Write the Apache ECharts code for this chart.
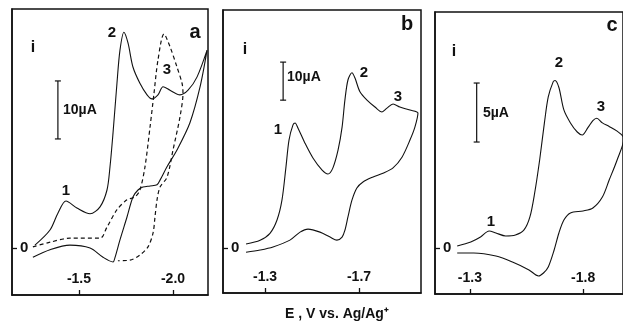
<!DOCTYPE html>
<html lang="en">
<head>
    <meta charset="UTF-8">
    <title>CV_panels</title>
    <script src="https://cdn.jsdelivr.net/npm/echarts@6/dist/echarts.min.js"></script>
    <style>
        html, body { margin: 0; padding: 0; background: #fff; }
        #main { width: 623px; height: 324px; }
    </style>
</head>
<body>
<div id="main"></div>
<script>
    // potentials in V vs Ag/Ag+, currents in microampere
    var aSolid = [[-1.266, 0.5], [-1.346, 3.1], [-1.388, 6.0], [-1.431, 8.1], [-1.489, 6.9], [-1.559, 5.9],
        [-1.612, 7.1], [-1.649, 10.0], [-1.665, 14.0], [-1.681, 19.8], [-1.702, 28.4], [-1.718, 34.1],
        [-1.739, 37.2], [-1.761, 35.3], [-1.787, 31.2], [-1.824, 28.4], [-1.862, 26.4], [-1.888, 25.7],
        [-1.920, 26.4], [-1.947, 27.8], [-1.984, 27.2], [-2.037, 26.4], [-2.080, 27.2], [-2.128, 29.5],
        [-2.181, 34.1],
        [-2.144, 27.8], [-2.090, 21.6], [-2.021, 16.9], [-1.968, 14.0], [-1.931, 11.7], [-1.915, 10.9],
        [-1.878, 10.7], [-1.840, 10.5], [-1.814, 10.0], [-1.787, 8.8], [-1.755, 5.3], [-1.718, 1.4],
        [-1.691, -1.7], [-1.681, -2.4], [-1.628, -1.6], [-1.559, 0.0], [-1.452, 0.5], [-1.346, -0.3],
        [-1.255, -1.6]];
    var aDashed = [[-1.255, 0.2], [-1.346, 1.0], [-1.452, 1.7], [-1.612, 1.7], [-1.649, 3.6], [-1.702, 6.6],
        [-1.755, 8.3], [-1.798, 8.8], [-1.824, 10.0], [-1.851, 14.0], [-1.878, 20.9], [-1.899, 26.7],
        [-1.920, 32.4], [-1.952, 36.9], [-1.984, 34.7], [-2.021, 31.2], [-2.048, 28.4], [-2.053, 26.7],
        [-2.037, 22.6], [-2.000, 16.9], [-1.968, 12.2], [-1.931, 10.5], [-1.915, 8.3], [-1.904, 5.3],
        [-1.894, 2.6], [-1.867, 0.2], [-1.824, -1.2], [-1.771, -2.1], [-1.707, -2.2]];
    var bSolid = [[-1.219, 1.1], [-1.279, 2.1], [-1.321, 3.9], [-1.351, 7.4], [-1.372, 12.6], [-1.389, 21.3],
        [-1.402, 28.4], [-1.419, 32.4], [-1.428, 32.9], [-1.440, 31.6], [-1.470, 27.6], [-1.504, 23.7],
        [-1.543, 20.5], [-1.568, 19.5], [-1.589, 21.1], [-1.611, 25.8], [-1.628, 31.8], [-1.640, 38.9],
        [-1.653, 44.2], [-1.670, 46.1], [-1.683, 44.7], [-1.704, 41.1], [-1.734, 38.9], [-1.768, 37.1],
        [-1.798, 35.8], [-1.819, 36.8], [-1.845, 37.9], [-1.874, 37.1], [-1.917, 36.3], [-1.951, 35.5],
        [-1.938, 31.8], [-1.917, 28.4], [-1.883, 23.9], [-1.845, 21.1], [-1.802, 19.7], [-1.760, 18.7],
        [-1.717, 17.4], [-1.691, 15.8], [-1.670, 12.6], [-1.653, 8.2], [-1.640, 4.7], [-1.628, 2.9],
        [-1.606, 2.1], [-1.577, 2.9], [-1.534, 4.2], [-1.483, 5.0], [-1.449, 4.2], [-1.406, 2.1],
        [-1.334, 0.3], [-1.279, -0.5], [-1.219, -1.1]];
    var cSolid = [[-1.244, 0.17], [-1.304, 0.51], [-1.347, 0.93], [-1.385, 1.44], [-1.415, 1.27], [-1.458, 1.02],
        [-1.501, 1.10], [-1.539, 1.53], [-1.565, 2.63], [-1.586, 4.66], [-1.608, 7.46], [-1.629, 10.6],
        [-1.646, 12.8], [-1.668, 14.1], [-1.676, 14.2], [-1.693, 13.6], [-1.715, 11.7], [-1.744, 10.6],
        [-1.774, 9.83], [-1.796, 9.58], [-1.821, 10.2], [-1.843, 10.8], [-1.860, 11.0], [-1.885, 10.6],
        [-1.915, 10.3], [-1.950, 9.9], [-1.980, 9.3],
        [-1.950, 7.46], [-1.915, 5.76], [-1.885, 4.32], [-1.843, 3.39], [-1.800, 3.14], [-1.744, 2.97],
        [-1.715, 2.37], [-1.693, 1.27], [-1.672, -0.17], [-1.646, -1.61], [-1.625, -2.12], [-1.603, -2.37],
        [-1.561, -1.86], [-1.488, -1.19], [-1.415, -0.68], [-1.317, -0.42], [-1.244, -0.42]];
    // scale bars: [E, i start], [E, i end]
    var aBar = [[-1.388, 18.8], [-1.388, 28.8]];
    var bBar = [[-1.377, 38.9], [-1.377, 48.9]];
    var cBar = [[-1.330, 8.98], [-1.330, 13.98]];
    var aTicks = [-1.5, -2.0];
    var bTicks = [-1.3, -1.7];
    var cTicks = [-1.3, -1.8];

    var ink = '#111';
    var font = 'Liberation Sans';

    function xAx(idx, min, max, ticks) {
        return {
            type: 'value', gridIndex: idx, inverse: true, min: min, max: max,
            axisLine: {show: true, onZero: false, lineStyle: {color: ink, width: 1.5}},
            splitLine: {show: false},
            axisTick: {show: true, inside: true, length: 5, customValues: ticks, lineStyle: {color: ink, width: 1.3}},
            axisLabel: {
                inside: true, margin: 9, customValues: ticks, color: ink,
                fontFamily: font, fontWeight: 'bold', fontSize: 14,
                formatter: function (v) { return v.toFixed(1); }
            }
        };
    }

    function yAx(idx, min, max) {
        return {
            type: 'value', gridIndex: idx, min: min, max: max,
            axisLine: {show: true, onZero: false, lineStyle: {color: ink, width: 1.5}},
            splitLine: {show: false},
            axisTick: {show: true, inside: true, length: 5, customValues: [0], lineStyle: {color: ink, width: 1.3}},
            axisLabel: {
                inside: true, margin: 8, customValues: [0], color: ink,
                fontFamily: font, fontWeight: 'bold', fontSize: 15
            }
        };
    }

    function curve(idx, data, dashed) {
        return {
            type: 'line', xAxisIndex: idx, yAxisIndex: idx, data: data,
            smooth: 0.3, showSymbol: false, silent: true,
            lineStyle: {color: ink, width: dashed ? 1.2 : 1.1, type: dashed ? [4, 3] : 'solid'}
        };
    }

    function bar(idx, data) {
        return {
            type: 'line', xAxisIndex: idx, yAxisIndex: idx, data: data,
            symbol: 'rect', symbolSize: [6, 1.2], showSymbol: true, silent: true,
            itemStyle: {color: ink}, lineStyle: {color: ink, width: 1.2}
        };
    }

    function txt(x, y, s, size, align) {
        return {
            type: 'text', x: x, y: y,
            style: {text: s, fill: ink, font: 'bold ' + size + 'px "' + font + '"',
                textAlign: align || 'center', textVerticalAlign: 'middle'}
        };
    }

    var myChart = echarts.init(document.getElementById('main'));
    var frame = {show: true, borderColor: ink, borderWidth: 1.5, backgroundColor: 'transparent'};
    var option = {
        animation: false,
        backgroundColor: '#fff',
        grid: [
            Object.assign({left: 12, top: 9, width: 196, height: 286}, frame),
            Object.assign({left: 223, top: 10, width: 198, height: 283}, frame),
            Object.assign({left: 435, top: 12, width: 194, height: 282}, frame)
        ],
        xAxis: [
            xAx(0, -2.186, -1.144, aTicks),
            xAx(1, -1.964, -1.121, bTicks),
            xAx(2, -1.976, -1.146, cTicks)
        ],
        yAxis: [
            yAx(0, -8.1, 41.2),
            yAx(1, -11.8, 62.6),
            yAx(2, -3.9, 20.0)
        ],
        series: [
            curve(0, aSolid, false),
            curve(0, aDashed, true),
            curve(1, bSolid, false),
            curve(2, cSolid, false),
            bar(0, aBar),
            bar(1, bBar),
            bar(2, cBar)
        ],
        graphic: [
            txt(33, 48, 'i', 16),
            txt(195, 32, 'a', 20),
            txt(66, 191, '1', 15),
            txt(112, 33, '2', 15),
            txt(167, 70, '3', 15),
            txt(63, 110, '10µA', 14, 'left'),

            txt(245, 50, 'i', 16),
            txt(407, 24, 'b', 20),
            txt(278, 130, '1', 15),
            txt(364, 73, '2', 15),
            txt(398, 97, '3', 15),
            txt(287, 77, '10µA', 14, 'left'),

            txt(454, 52, 'i', 16),
            txt(612, 25, 'c', 20),
            txt(491, 222, '1', 15),
            txt(559, 63, '2', 15),
            txt(601, 107, '3', 15),
            txt(483, 113, '5µA', 14, 'left'),

            txt(337, 314, 'E , V vs. Ag/Ag⁺', 14)
        ]
    };
    myChart.setOption(option);
</script>
</body>
</html>
